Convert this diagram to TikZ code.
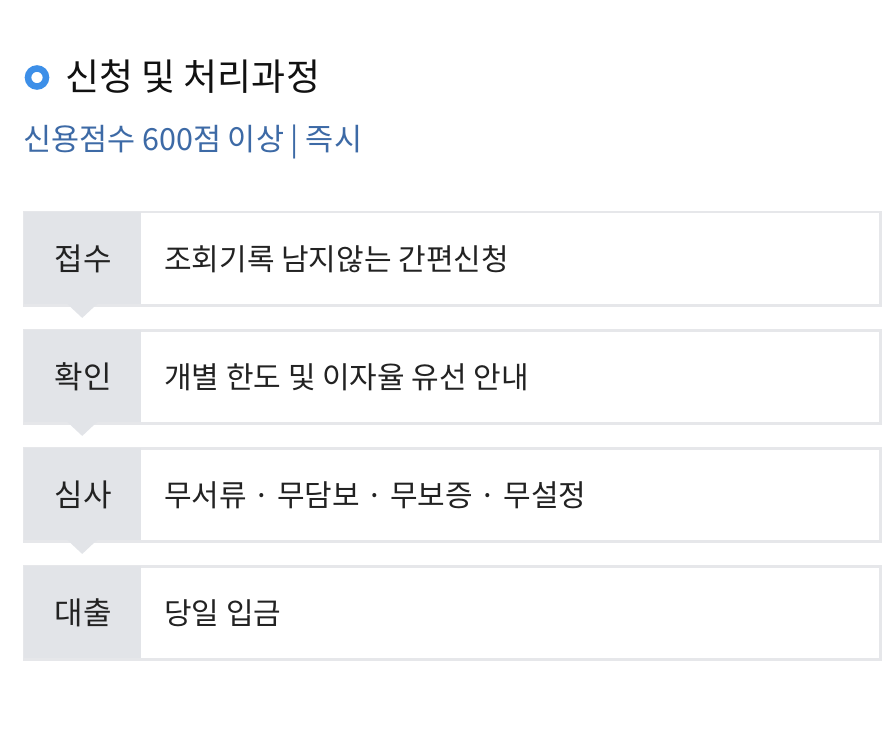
\documentclass[tikz,border=0pt]{standalone}
\usepackage{fontspec}
\setmainfont{Noto Sans CJK KR}
\definecolor{framec}{HTML}{E6E7EA}
\definecolor{cellc}{HTML}{E2E4E8}
\definecolor{titlec}{HTML}{111111}
\definecolor{subc}{HTML}{3D6AA6}
\definecolor{textc}{HTML}{222222}
\definecolor{iconc}{HTML}{3D8FE8}
\tikzset{
  rowbox/.style={draw=framec, line width=2.5pt, fill=white, minimum width=856pt, minimum height=93pt, anchor=north west, inner sep=0pt},
  cellbox/.style={fill=cellc, minimum width=117pt, minimum height=92pt, anchor=north west, inner sep=0pt},
  celltext/.style={font=\fontsize{31}{34}\selectfont, text=textc, anchor=base, inner sep=0pt},
  bodytext/.style={font=\fontsize{30}{34}\selectfont, text=textc, anchor=base west, inner sep=0pt},
  pointer/.style={fill=cellc, draw=none}
}
\begin{document}
\begin{tikzpicture}[x=1pt,y=-1pt]
\useasboundingbox[fill=white] (0,0) rectangle (888,735);
% title
\node[draw=iconc, line width=6.5pt, circle, minimum size=18pt, inner sep=0pt] (icon) at (37,77.5) {};
\node[font=\fontsize{37}{40}\selectfont, text=titlec, anchor=base west, inner sep=0pt] (title) at (65,91) {신청 및 처리과정};
\node[font=\fontsize{30.5}{34}\selectfont, text=subc, anchor=base west, inner sep=0pt] (sub) at (23,151) {신용점수 600점 이상 | 즉시};
% rows
\foreach \i/\t/\lab/\body in {1/211/접수/조회기록 남지않는 간편신청, 2/329/확인/개별 한도 및 이자율 유선 안내, 3/447/심사/무서류 · 무담보 · 무보증 · 무설정, 4/565/대출/당일 입금}{
  \node[rowbox] (row\i) at (23,\t) {};
  \node[cellbox] (cell\i) at (23.5,\t+0.5) {};
  \node[celltext] (lab\i) at (83.5,\t+59) {\lab};
  \node[bodytext] (body\i) at (164,\t+59) {\body};
}
\foreach \i in {1,2,3}{
  \fill[pointer] ([xshift=-15pt]cell\i.south) -- ([xshift=15pt]cell\i.south) -- ([yshift=-14pt]cell\i.south) -- cycle;
}
\end{tikzpicture}
\end{document}
